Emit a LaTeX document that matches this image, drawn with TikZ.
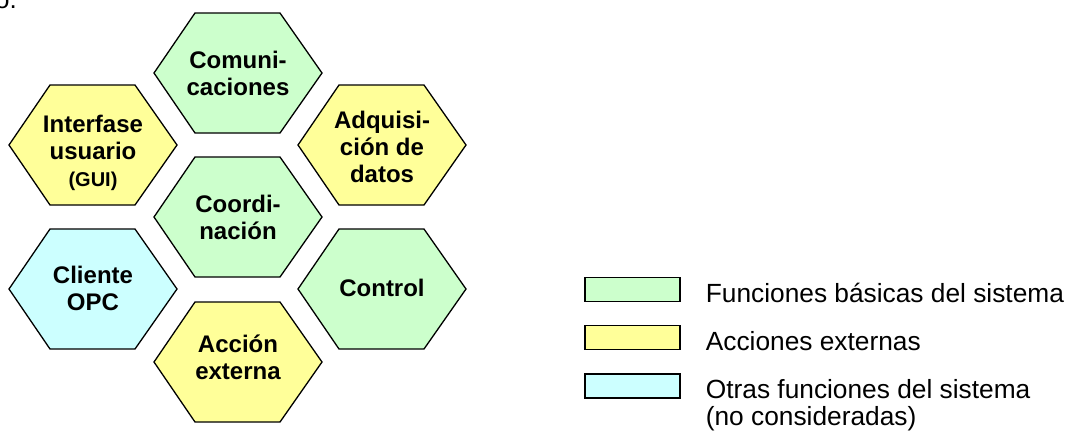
\documentclass[tikz,border=0pt]{standalone}
\usepackage{fontspec}
\setmainfont{Liberation Sans}
\usetikzlibrary{positioning}
\definecolor{softgreen}{HTML}{CCFFCC}
\definecolor{softyellow}{HTML}{FFFF99}
\definecolor{softcyan}{HTML}{CCFFFF}
\tikzset{
  cell/.style={draw=black,line width=1.3pt,line join=miter},
  celltext/.style={align=center,inner sep=0pt,
                   font=\fontsize{24}{27}\selectfont\bfseries},
  swatch/.style={draw=black,line width=1.3pt,minimum width=95pt,
                 minimum height=24pt,inner sep=0pt},
  legendtext/.style={align=left,inner sep=0pt,font=\fontsize{26.3}{27}\selectfont}
}

\begin{document}
\begin{tikzpicture}[x=1pt,y=-1pt]
  \useasboundingbox (0,0) rectangle (1078,432);
  \node[anchor=base east,inner sep=0pt,font=\fontsize{26}{27}\selectfont] (frag) at (17,8) {o.};
  % honeycomb: name/centre x/centre y/text y/fill/label
  \foreach \n/\x/\y/\ty/\c/\t in {
      com/238/73/73/softgreen/{Comuni-\\caciones},
      gui/93/145/153/softyellow/{Interfase\\usuario\\{\fontsize{20}{23}\selectfont(GUI)}},
      adq/382/145/147/softyellow/{Adquisi-\\ción de\\datos},
      coord/238/217/217/softgreen/{Coordi-\\nación},
      opc/93/289/288/softcyan/{Cliente\\OPC},
      ctrl/382/289/288/softgreen/{Control},
      acc/238/362/357/softyellow/{Acción\\externa}}
  {
    \draw[cell,fill=\c] (\x,\y) ++(-84,0) -- ++(41,-60) -- ++(85,0) -- ++(42,60)
      -- ++(-42,60) -- ++(-85,0) -- cycle;
    \node[celltext] (\n) at (\x,\ty) {\t};
  }
  % legend
  \node[swatch,fill=softgreen] (lgbasic) at (632.5,289.5) {};
  \node[swatch,fill=softyellow,below=23pt of lgbasic] (lgext) {};
  \node[swatch,fill=softcyan,below=23pt of lgext] (lgother) {};
  \node[legendtext,anchor=base west] (tbasic) at ([xshift=25pt]lgbasic.south east)
    {Funciones básicas del sistema};
  \node[legendtext,anchor=base west] (text) at ([xshift=25pt]lgext.south east)
    {Acciones externas};
  \node[legendtext,anchor=base west] (tother) at ([xshift=25pt,yshift=-27pt]lgother.south east)
    {Otras funciones del sistema\\(no consideradas)};
\end{tikzpicture}
\end{document}
